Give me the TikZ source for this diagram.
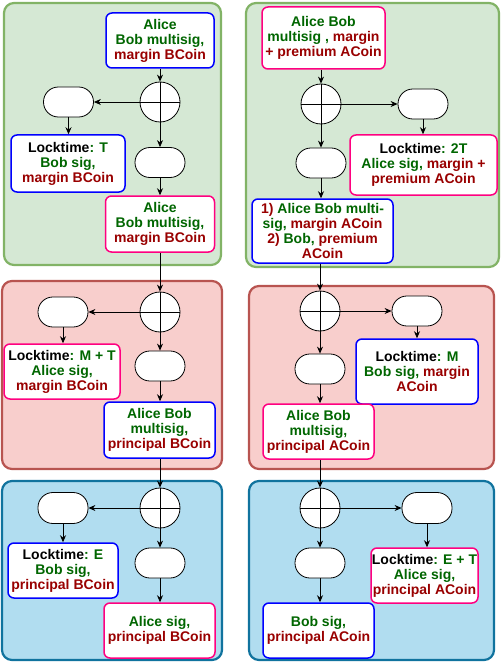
\documentclass[tikz,border=0pt]{standalone}
\usepackage{fontspec}
\setmainfont{Liberation Sans}
\usetikzlibrary{arrows.meta}
\definecolor{gfill}{HTML}{D5E8D4}
\definecolor{gline}{HTML}{82B366}
\definecolor{rfill}{HTML}{F8CECC}
\definecolor{rline}{HTML}{B85450}
\definecolor{bfill}{HTML}{B1DDF0}
\definecolor{bline}{HTML}{10739E}
\definecolor{boxblue}{HTML}{0000FF}
\definecolor{boxpink}{HTML}{FF0080}
\definecolor{txtg}{HTML}{006600}
\definecolor{txtr}{HTML}{990000}
\newcommand{\colG}[1]{\textcolor{txtg}{#1}}
\newcommand{\colR}[1]{\textcolor{txtr}{#1}}
\begin{document}
\begin{tikzpicture}[x=1pt,y=-1pt,
  panel/.style={line width=2.2pt, rounded corners=10pt},
  tbox/.style={draw, fill=white, rounded corners=6pt, line width=1.5pt, align=center, inner sep=0pt, font=\bfseries\fontsize{14}{15}\selectfont},
  bluebox/.style={tbox, draw=boxblue},
  pinkbox/.style={tbox, draw=boxpink},
  oval/.style={draw=black, fill=white, rounded corners=14.9pt, minimum width=50pt, minimum height=30pt, line width=0.8pt, inner sep=0pt},
  orc/.style={circle, draw=black, fill=white, minimum size=40pt, inner sep=0pt, line width=0.8pt,
    path picture={\draw[line width=0.8pt] (path picture bounding box.north) -- (path picture bounding box.south) (path picture bounding box.west) -- (path picture bounding box.east);}},
  arr/.style={-{Stealth[length=7pt,width=6pt]}, line width=0.8pt}
]
\useasboundingbox (0,0) rectangle (502,663);
% panels
\draw[panel, draw=gline, fill=gfill] (4,3) rectangle (221,265);
\draw[panel, draw=gline, fill=gfill] (246,3) rectangle (499,267);
\draw[panel, draw=rline, fill=rfill] (2,281) rectangle (222,469);
\draw[panel, draw=rline, fill=rfill] (249,286) rectangle (494,469);
\draw[panel, draw=bline, fill=bfill] (2,481) rectangle (222,660);
\draw[panel, draw=bline, fill=bfill] (249,481) rectangle (494,660);

% left green
\node[bluebox, minimum width=108pt, minimum height=55pt] (g1) at (160,40.5) {\colG{Alice}\\\colG{Bob multisig,}\\\colR{margin BCoin}};
\node[orc] (gc) at (160,102) {};
\node[oval] (go1) at (68.5,102) {};
\node[bluebox, minimum width=114pt, minimum height=57pt] (gl) at (68,163.5) {Locktime\colG{: T}\\\colG{Bob sig,}\\\colR{margin BCoin}};
\node[oval] (go2) at (160,162.5) {};
\node[pinkbox, minimum width=109pt, minimum height=56pt] (g2) at (160,224) {\colG{Alice}\\\colG{Bob multisig,}\\\colR{margin BCoin}};

% right green
\node[pinkbox, minimum width=123pt, minimum height=62pt] (h1) at (323.5,38) {\colG{Alice Bob}\\\colG{multisig ,} \colR{margin}\\\colR{+ premium ACoin}};
\node[orc] (hc) at (321,104) {};
\node[oval] (ho1) at (423,104) {};
\node[pinkbox, minimum width=147pt, minimum height=60pt] (hl) at (423.5,165) {Locktime\colG{: 2T}\\\colG{Alice sig,} \colR{margin +}\\\colR{premium ACoin}};
\node[oval] (ho2) at (321,163) {};
\node[bluebox, minimum width=141pt, minimum height=64pt] (h2) at (322.5,231) {\colR{1)} \colG{Alice Bob multi-}\\\colG{sig,} \colR{margin ACoin}\\\colR{2)} \colG{Bob,} \colR{premium}\\\colR{ACoin}};

% left red
\node[orc] (rc) at (160,312) {};
\node[oval] (ro1) at (63,312) {};
\node[pinkbox, minimum width=116pt, minimum height=55pt] (rl) at (62,371.5) {Locktime\colG{: M + T}\\\colG{Alice sig,}\\\colR{margin BCoin}};
\node[oval] (ro2) at (160,366) {};
\node[bluebox, minimum width=111pt, minimum height=56pt] (r2) at (159.5,430) {\colG{Alice Bob}\\\colG{multisig,}\\\colR{principal BCoin}};

% right red
\node[orc] (sc) at (320,311) {};
\node[oval] (so1) at (417,311) {};
\node[bluebox, minimum width=122pt, minimum height=65pt] (sl) at (417,371.5) {Locktime\colG{: M}\\\colG{Bob sig,} \colR{margin}\\\colR{ACoin}};
\node[oval] (so2) at (320,369) {};
\node[pinkbox, minimum width=111pt, minimum height=55pt] (s2) at (318.5,431.5) {\colG{Alice Bob}\\\colG{multisig,}\\\colR{principal ACoin}};

% left blue
\node[orc] (bc) at (160,508) {};
\node[oval, minimum height=31pt] (bo1) at (63,508) {};
\node[bluebox, minimum width=110pt, minimum height=55pt] (bl) at (63,570.5) {Locktime\colG{: E}\\\colG{Bob sig,}\\\colR{principal BCoin}};
\node[oval] (bo2) at (160,563) {};
\node[pinkbox, minimum width=111pt, minimum height=55pt] (b2) at (159.5,630.5) {\colG{Alice sig,}\\\colR{principal BCoin}};

% right blue
\node[orc] (cc) at (320,508) {};
\node[oval, minimum height=31pt] (co1) at (427,508) {};
\node[pinkbox, minimum width=107pt, minimum height=55pt] (cl) at (424.5,575.5) {Locktime\colG{: E + T}\\\colG{Alice sig,}\\\colR{principal ACoin}};
\node[oval] (co2) at (320,563) {};
\node[bluebox, minimum width=111pt, minimum height=55pt] (c2) at (318.5,630.5) {\colG{Bob sig,}\\\colR{principal ACoin}};

% connectors left column
\draw[arr] (g1.south -| gc) -- (gc.north);
\draw[arr] (gc.south) -- (go2.north);
\draw[arr] (gc.west) -- (go1.east);
\draw[arr] (go1.south) -- (gl.north -| go1);
\draw[arr] (go2.south) -- (g2.north -| go2);
\draw[arr] (g2.south -| rc) -- (rc.north);
\draw[arr] (rc.south) -- (ro2.north);
\draw[arr] (rc.west) -- (ro1.east);
\draw[arr] (ro1.south) -- (rl.north -| ro1);
\draw[arr] (ro2.south) -- (r2.north -| ro2);
\draw[arr] (r2.south -| bc) -- (bc.north);
\draw[arr] (bc.south) -- (bo2.north);
\draw[arr] (bc.west) -- (bo1.east);
\draw[arr] (bo1.south) -- (bl.north -| bo1);
\draw[arr] (bo2.south) -- (b2.north -| bo2);

% connectors right column
\draw[arr] (h1.south -| hc) -- (hc.north);
\draw[arr] (hc.south) -- (ho2.north);
\draw[arr] (hc.east) -- (ho1.west);
\draw[arr] (ho1.south) -- (hl.north -| ho1);
\draw[arr] (ho2.south) -- (h2.north -| ho2);
\draw[arr] (h2.south -| sc) -- (sc.north);
\draw[arr] (sc.south) -- (so2.north);
\draw[arr] (sc.east) -- (so1.west);
\draw[arr] (so1.south) -- (sl.north -| so1);
\draw[arr] (so2.south) -- (s2.north -| so2);
\draw[arr] (s2.south -| cc) -- (cc.north);
\draw[arr] (cc.south) -- (co2.north);
\draw[arr] (cc.east) -- (co1.west);
\draw[arr] (co1.south) -- (cl.north -| co1);
\draw[arr] (co2.south) -- (c2.north -| co2);
\end{tikzpicture}
\end{document}
